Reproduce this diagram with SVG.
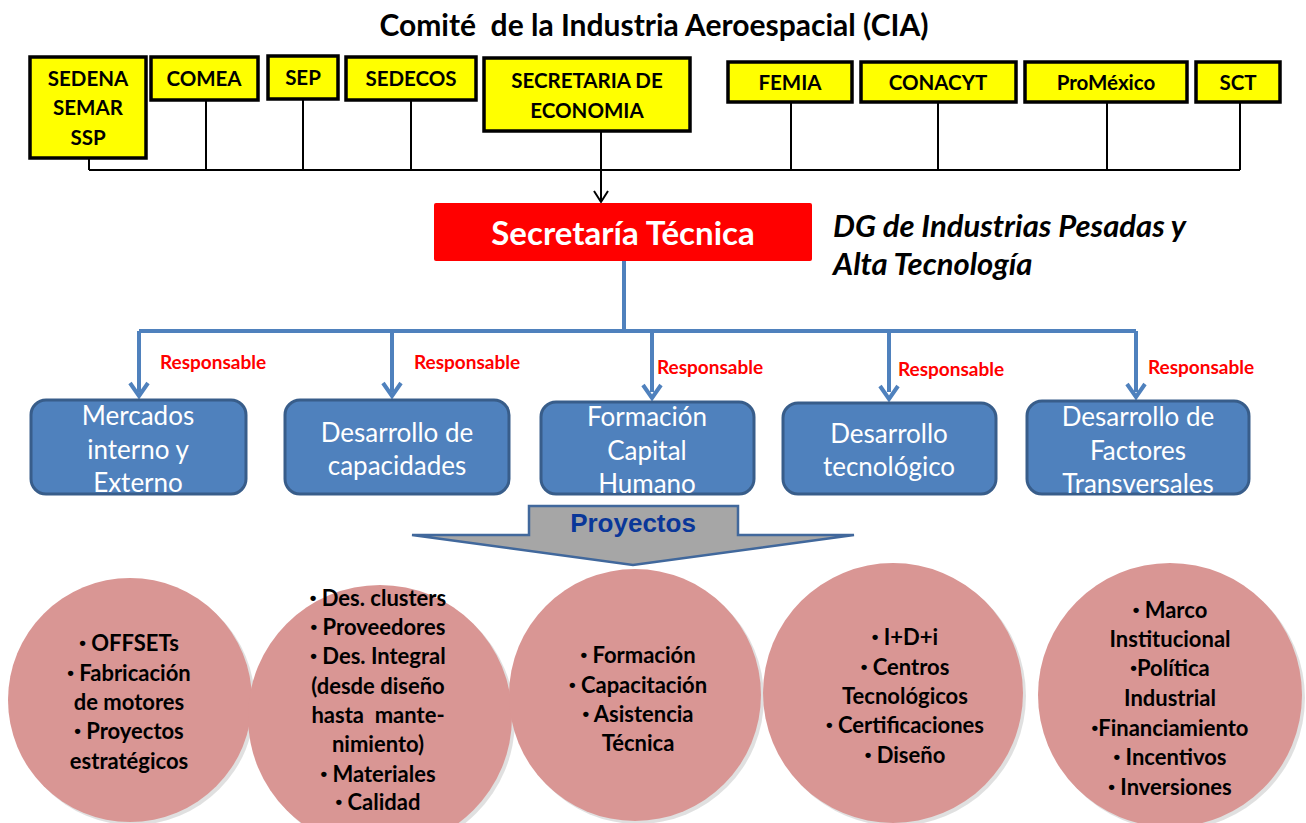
<svg xmlns="http://www.w3.org/2000/svg" width="1306" height="823" viewBox="0 0 1306 823">
<defs>
<style>
.title{font-family:Lato,"Liberation Sans",sans-serif;font-weight:bold;font-size:30px;fill:#000}
.ybox{fill:#ffff00;stroke:#000;stroke-width:3.5}
.yt{font-family:Lato,"Liberation Sans",sans-serif;font-weight:bold;font-size:20.5px;fill:#000;text-anchor:middle;dominant-baseline:central}
.blk{stroke:#000;stroke-width:2;fill:none}
.blu{stroke:#4f81bd;stroke-width:4;fill:none}
.bbox{fill:#4f81bd;stroke:#385d8a;stroke-width:3}
.bt{font-family:Lato,"Liberation Sans",sans-serif;font-size:26px;fill:#fff;text-anchor:middle;dominant-baseline:central}
.resp{font-family:Lato,"Liberation Sans",sans-serif;font-weight:bold;font-size:19px;fill:#ff0000;dominant-baseline:central}
.circ{fill:#d99694}
.shadow{fill:#000;opacity:0.12}
.ct{font-family:Lato,"Liberation Sans",sans-serif;font-weight:bold;font-size:22px;fill:#000;text-anchor:middle;dominant-baseline:central}
.bu{font-family:"Liberation Sans",sans-serif;font-size:19px}
</style>
</defs>
<rect width="1306" height="823" fill="#fff"/>

<g id="title">
<text class="title" x="654" y="36" text-anchor="middle" xml:space="preserve">Comité  de la Industria Aeroespacial (CIA)</text>
</g>

<g id="connectors">
<path class="blk" d="M89,158 V170 M206,100 V170 M303,99 V170 M411,100 V170 M791,102 V170 M938,102 V170 M1107,102 V170 M1240,102 V170 M89,170 H1240"/>
<path class="blk" d="M601,131 V202"/>
<polyline class="blk" points="594,191 601,202 608,191"/>
<path class="blu" d="M624,261 V331 M139,331 H1136"/>
<path class="blu" d="M139,331 V392 M392,331 V392 M652,331 V392 M889,331 V392 M1136,331 V392"/>
<g fill="none" stroke="#4f81bd" stroke-width="4">
<polyline points="130,383 139,396 148,383"/>
<polyline points="383,383 392,396 401,383"/>
<polyline points="643,385 652,398 661,385"/>
<polyline points="880,386 889,399 898,386"/>
<polyline points="1127,384 1136,397 1145,384"/>
</g>
</g>

<g id="sedena"><rect class="ybox" x="30" y="57" width="116" height="101"/>
<text class="yt" x="88" y="78">SEDENA</text><text class="yt" x="88" y="107">SEMAR</text><text class="yt" x="88" y="137">SSP</text></g>
<g id="comea"><rect class="ybox" x="151" y="57" width="107" height="43"/><text class="yt" x="204" y="78">COMEA</text></g>
<g id="sep"><rect class="ybox" x="268" y="56" width="70" height="43"/><text class="yt" x="303" y="77">SEP</text></g>
<g id="sedecos"><rect class="ybox" x="346" y="57" width="130" height="43"/><text class="yt" x="411" y="78">SEDECOS</text></g>
<g id="secretaria-economia"><rect class="ybox" x="484" y="58" width="206" height="73"/>
<text class="yt" x="587" y="80">SECRETARIA DE</text><text class="yt" x="587" y="110">ECONOMIA</text></g>
<g id="femia"><rect class="ybox" x="728" y="62" width="124" height="40"/><text class="yt" x="790" y="82">FEMIA</text></g>
<g id="conacyt"><rect class="ybox" x="861" y="62" width="155" height="40"/><text class="yt" x="938" y="82">CONACYT</text></g>
<g id="promexico"><rect class="ybox" x="1025" y="62" width="162" height="40"/><text class="yt" x="1106" y="82">ProMéxico</text></g>
<g id="sct"><rect class="ybox" x="1196" y="62" width="84" height="40"/><text class="yt" x="1238" y="82">SCT</text></g>

<g id="secretaria-tecnica">
<rect x="434" y="203" width="378" height="58" rx="2" fill="#ff0000"/>
<text x="623" y="232" font-family="Lato,'Liberation Sans',sans-serif" font-weight="bold" font-size="33" fill="#fff" text-anchor="middle" dominant-baseline="central">Secretaría Técnica</text>
</g>
<g id="dg">
<text font-family="Lato,'Liberation Sans',sans-serif" font-weight="bold" font-style="italic" font-size="31" fill="#000"><tspan x="833" y="237">DG de Industrias Pesadas y</tspan><tspan x="833" y="275">Alta Tecnología</tspan></text>
</g>

<g id="labels">
<text class="resp" x="160" y="361">Responsable</text>
<text class="resp" x="414" y="361">Responsable</text>
<text class="resp" x="657" y="366">Responsable</text>
<text class="resp" x="898" y="368">Responsable</text>
<text class="resp" x="1148" y="366">Responsable</text>
</g>

<g id="mercados"><rect class="bbox" x="31" y="400" width="215" height="94" rx="15"/>
<text class="bt" x="138" y="415">Mercados</text><text class="bt" x="138" y="449">interno y</text><text class="bt" x="138" y="482">Externo</text></g>
<g id="capacidades"><rect class="bbox" x="285" y="400" width="224" height="94" rx="15"/>
<text class="bt" x="397" y="432">Desarrollo de</text><text class="bt" x="397" y="465">capacidades</text></g>
<g id="formacion"><rect class="bbox" x="541" y="402" width="213" height="92" rx="15"/>
<text class="bt" x="647" y="416">Formación</text><text class="bt" x="647" y="450">Capital</text><text class="bt" x="647" y="483">Humano</text></g>
<g id="tecnologico"><rect class="bbox" x="783" y="403" width="213" height="91" rx="15"/>
<text class="bt" x="889" y="433">Desarrollo</text><text class="bt" x="889" y="466">tecnológico</text></g>
<g id="transversales"><rect class="bbox" x="1027" y="401" width="222" height="93" rx="15"/>
<text class="bt" x="1138" y="416">Desarrollo de</text><text class="bt" x="1138" y="450">Factores</text><text class="bt" x="1138" y="483">Transversales</text></g>

<g id="proyectos">
<polygon points="529,506 738,506 738,535 854,535 633,565 412,535 529,535" fill="#a6a6a6" stroke="#41689c" stroke-width="2.5" stroke-linejoin="miter"/>
<text x="633" y="532" font-family="'Liberation Sans',Arial,sans-serif" font-weight="bold" font-size="26" fill="#0a3799" text-anchor="middle">Proyectos</text>
</g>

<g id="circle1">
<circle class="shadow" cx="133" cy="703" r="122"/>
<circle class="circ" cx="130" cy="700" r="122"/>
<text class="ct" x="129" y="642"><tspan class="bu">•</tspan> OFFSETs</text><text class="ct" x="129" y="672"><tspan class="bu">•</tspan> Fabricación</text><text class="ct" x="129" y="701">de motores</text><text class="ct" x="129" y="730"><tspan class="bu">•</tspan> Proyectos</text><text class="ct" x="129" y="760">estratégicos</text>
</g>
<g id="circle2">
<circle class="shadow" cx="383" cy="720" r="132"/>
<circle class="circ" cx="380" cy="717" r="132"/>
<text class="ct" x="378" y="597"><tspan class="bu">•</tspan> Des. clusters</text><text class="ct" x="378" y="626"><tspan class="bu">•</tspan> Proveedores</text><text class="ct" x="378" y="655"><tspan class="bu">•</tspan> Des. Integral</text><text class="ct" x="378" y="685">(desde diseño</text><text class="ct" x="378" y="714" xml:space="preserve">hasta  mante-</text><text class="ct" x="378" y="743">nimiento)</text><text class="ct" x="378" y="773"><tspan class="bu">•</tspan> Materiales</text><text class="ct" x="378" y="801"><tspan class="bu">•</tspan> Calidad</text>
</g>
<g id="circle3">
<circle class="shadow" cx="638" cy="698" r="126"/>
<circle class="circ" cx="635" cy="695" r="126"/>
<text class="ct" x="638" y="654"><tspan class="bu">•</tspan> Formación</text><text class="ct" x="638" y="684"><tspan class="bu">•</tspan> Capacitación</text><text class="ct" x="638" y="713"><tspan class="bu">•</tspan> Asistencia</text><text class="ct" x="638" y="742">Técnica</text>
</g>
<g id="circle4">
<circle class="shadow" cx="896" cy="696" r="130"/>
<circle class="circ" cx="893" cy="693" r="130"/>
<text class="ct" x="905" y="636"><tspan class="bu">•</tspan> I+D+i</text><text class="ct" x="905" y="666"><tspan class="bu">•</tspan> Centros</text><text class="ct" x="905" y="695">Tecnológicos</text><text class="ct" x="905" y="724"><tspan class="bu">•</tspan> Certificaciones</text><text class="ct" x="905" y="754"><tspan class="bu">•</tspan> Diseño</text>
</g>
<g id="circle5">
<circle class="shadow" cx="1173" cy="698" r="132"/>
<circle class="circ" cx="1170" cy="695" r="132"/>
<text class="ct" x="1170" y="609"><tspan class="bu">•</tspan> Marco</text><text class="ct" x="1170" y="638">Institucional</text><text class="ct" x="1170" y="667"><tspan class="bu">•</tspan>Política</text><text class="ct" x="1170" y="697">Industrial</text><text class="ct" x="1170" y="727"><tspan class="bu">•</tspan>Financiamiento</text><text class="ct" x="1170" y="756"><tspan class="bu">•</tspan> Incentivos</text><text class="ct" x="1170" y="786"><tspan class="bu">•</tspan> Inversiones</text>
</g>
</svg>
